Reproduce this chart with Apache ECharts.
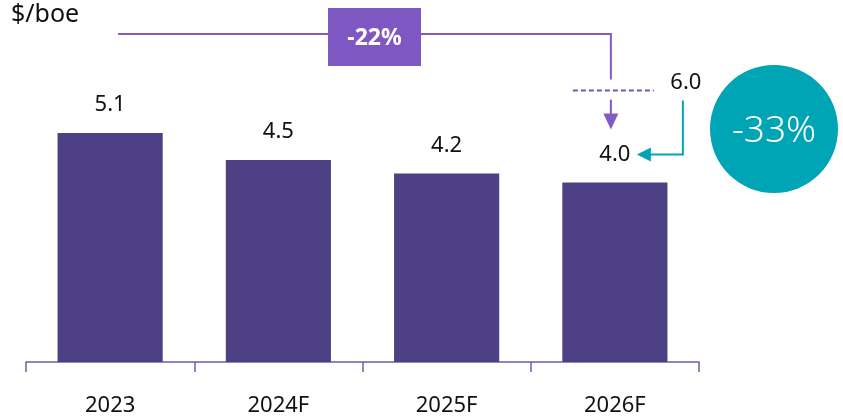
<!DOCTYPE html>
<html>
<head>
<meta charset="utf-8">
<script src="https://cdn.jsdelivr.net/npm/echarts@6/dist/echarts.min.js"></script>
<style>
html,body{margin:0;padding:0;background:#fff;}
#c{width:843px;height:417px;}
</style>
</head>
<body>
<div id="c"></div>
<script>
var categories = ['2023', '2024F', '2025F', '2026F'];
var values = [5.1, 4.5, 4.2, 4.0];
var targetValue = 6.0;
var unitLabel = '$/boe';
var dropVsTarget = '-22%';
var dropVsBase = '-33%';

var FONT = '"Noto Sans", sans-serif';
var chart = echarts.init(document.getElementById('c'), null, {renderer: 'canvas'});

var option = {
  animation: false,
  grid: {left: 26, right: 144, top: 92.6, bottom: 55},
  xAxis: {
    type: 'category',
    data: categories,
    axisLine: {show: true, lineStyle: {color: '#6b5fa6', width: 1.5}},
    axisTick: {show: true, length: 10, alignWithLabel: false, lineStyle: {color: '#6b5fa6', width: 1.5}},
    axisLabel: {color: '#111', fontSize: 22, fontFamily: FONT, margin: 33}
  },
  yAxis: {type: 'value', min: 0, max: 6, show: false, splitLine: {show: false}},
  series: [{
    type: 'bar',
    data: values,
    barCategoryGap: '37.5%',
    itemStyle: {color: '#4e4084'},
    label: {
      show: true, position: 'top', distance: 17,
      color: '#111', fontSize: 22, fontFamily: FONT,
      formatter: function (p) { return p.value.toFixed(1); }
    }
  }]
};
chart.setOption(option);

// annotation positions derived from the chart's scales
var pFirst = chart.convertToPixel({seriesIndex: 0}, [categories[0], values[0]]);
var pLast = chart.convertToPixel({seriesIndex: 0}, [categories[3], values[3]]);
var pTarget = chart.convertToPixel({seriesIndex: 0}, [categories[3], targetValue]);
var xL = pLast[0] - 4;
var yT = pTarget[1] - 2;
var purple = '#8359c6';
var teal = '#00a5b5';

var g = [
  {type: 'text', left: 11, top: 2, style: {text: unitLabel, fill: '#111', font: '25px ' + FONT}},
  {type: 'polyline', shape: {points: [[pFirst[0] + 8, 34], [xL, 34], [xL, yT - 11]]}, style: {stroke: purple, lineWidth: 2, fill: null}},
  {type: 'rect', shape: {x: 328, y: 8, width: 93, height: 58}, style: {fill: '#7e57c2'}},
  {type: 'text', style: {text: dropVsTarget, x: 374.5, y: 38, textAlign: 'center', textVerticalAlign: 'middle', fill: '#fff', font: 'bold 23px ' + FONT}},
  {type: 'line', shape: {x1: xL - 38, y1: yT, x2: xL + 43, y2: yT}, style: {stroke: '#6b5fa6', lineWidth: 2, lineDash: [5, 3]}},
  {type: 'line', shape: {x1: xL, y1: yT + 9, x2: xL, y2: yT + 25}, style: {stroke: purple, lineWidth: 2}},
  {type: 'polygon', shape: {points: [[xL - 7.5, yT + 23], [xL + 7.5, yT + 23], [xL, yT + 39]]}, style: {fill: purple}},
  {type: 'text', style: {text: targetValue.toFixed(1), x: xL + 75, y: yT - 8, textAlign: 'center', textVerticalAlign: 'middle', fill: '#111', font: '22px ' + FONT}},
  {type: 'polyline', shape: {points: [[xL + 72, yT + 10], [xL + 72, yT + 64], [xL + 38, yT + 64]]}, style: {stroke: teal, lineWidth: 2, fill: null}},
  {type: 'polygon', shape: {points: [[xL + 40, yT + 57], [xL + 40, yT + 71], [xL + 26, yT + 64]]}, style: {fill: teal}},
  {type: 'circle', shape: {cx: 774, cy: 129, r: 64}, style: {fill: '#00a5b5'}},
  {type: 'text', style: {text: dropVsBase, x: 774, y: 131, textAlign: 'center', textVerticalAlign: 'middle', fill: '#fff', font: '300 37px ' + FONT}}
];
chart.setOption({graphic: g});
</script>
</body>
</html>
